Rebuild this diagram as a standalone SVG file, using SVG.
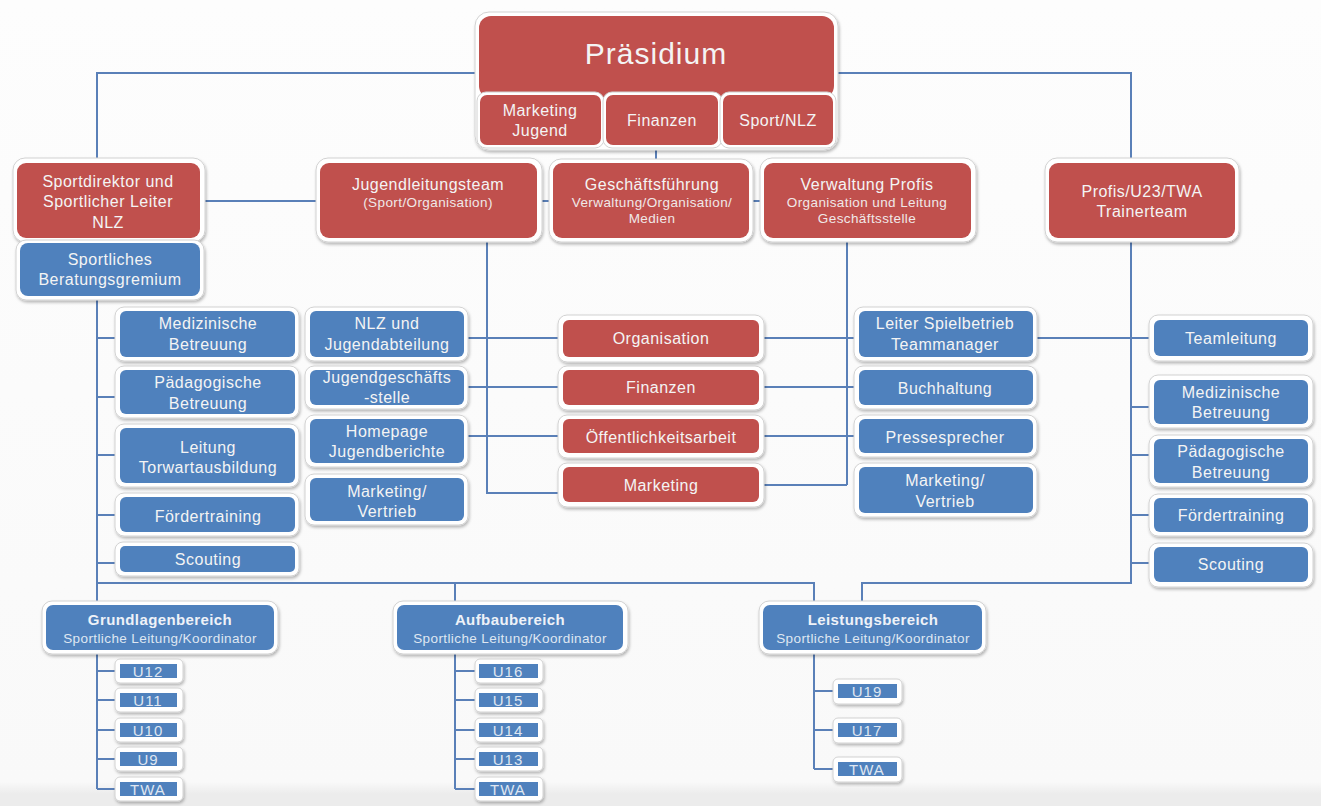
<svg xmlns="http://www.w3.org/2000/svg" width="1321" height="806" viewBox="0 0 1321 806">
<defs>
<filter id="sh" x="-10%" y="-10%" width="120%" height="130%">
<feDropShadow dx="1" dy="2" stdDeviation="1.5" flood-color="#000" flood-opacity="0.28"/>
</filter>
<linearGradient id="bg" x1="0" y1="0" x2="0" y2="1">
<stop offset="0" stop-color="#fdfdfd"/>
<stop offset="0.97" stop-color="#f9f9f9"/>
<stop offset="0.985" stop-color="#ececec"/>
<stop offset="1" stop-color="#ececec"/>
</linearGradient>
</defs>
<style>
.o{fill:#ffffff;stroke:#d2d2d2;stroke-width:1;filter:url(#sh)}
.r{fill:#c0504d}
.b{fill:#4f81bd}
.t{font-family:"Liberation Sans",Arial,sans-serif;font-size:16px;fill:#f4f4f4;text-anchor:middle;letter-spacing:0.5px}
.s{font-family:"Liberation Sans",Arial,sans-serif;font-size:13.5px;fill:#f0e8e8;text-anchor:middle;letter-spacing:0.4px}
.bt{font-family:"Liberation Sans",Arial,sans-serif;font-size:15px;font-weight:bold;fill:#eef2f8;text-anchor:middle;letter-spacing:0.4px}
.u{font-family:"Liberation Sans",Arial,sans-serif;font-size:15px;fill:#dfe6f1;text-anchor:middle;letter-spacing:1px}
.c{fill:none;stroke:#5a80b8;stroke-width:2}
</style>
<rect x="0" y="0" width="1321" height="806" fill="url(#bg)"/>

<g id="connectors">
<path class="c" d="M97,160 V73 H1131 V160"/>
<path class="c" d="M656,148 V162"/>
<path class="c" d="M204,201 H764"/>
<path class="c" d="M487,240 V493 H560"/>
<path class="c" d="M466,338 H560 M466,387 H560 M466,436 H560"/>
<path class="c" d="M847,240 V485"/>
<path class="c" d="M762,338 H856 M762,387 H856 M762,436 H856 M762,485 H847"/>
<path class="c" d="M1035,338 H1151"/>
<path class="c" d="M1131,240 V583 H862 V602"/>
<path class="c" d="M1131,407 H1151 M1131,455 H1151 M1131,515 H1151 M1131,563 H1151"/>
<path class="c" d="M97,298 V602"/>
<path class="c" d="M97,338 H117 M97,397 H117 M97,455 H117 M97,515 H117 M97,563 H117"/>
<path class="c" d="M97,583 H814 V602"/>
<path class="c" d="M455,583 V602"/>
<path class="c" d="M97,652 V789 M97,671 H117 M97,700 H117 M97,730 H117 M97,759 H117 M97,789 H117"/>
<path class="c" d="M455,652 V789 M455,671 H477 M455,700 H477 M455,730 H477 M455,759 H477 M455,789 H477"/>
<path class="c" d="M814,652 V769 M814,691 H835 M814,730 H835 M814,769 H835"/>
</g>

<g id="praesidium">
<rect class="o" x="475" y="12" width="363" height="138" rx="14"/>
<rect class="r" x="479" y="16" width="355" height="82" rx="12"/>
<text class="t" x="656" y="64" style="font-size:30px;letter-spacing:1px">Präsidium</text>
</g>
<g id="p-marketing">
<rect class="o" x="477" y="92" width="127" height="56" rx="9" style="filter:none"/>
<rect class="r" x="480" y="95" width="121" height="50" rx="7"/>
<text class="t" x="540" y="116">Marketing</text>
<text class="t" x="540" y="136">Jugend</text>
</g>
<g id="p-finanzen">
<rect class="o" x="603" y="92" width="119" height="56" rx="9" style="filter:none"/>
<rect class="r" x="606" y="95" width="112" height="50" rx="7"/>
<text class="t" x="662" y="126">Finanzen</text>
</g>
<g id="p-sport">
<rect class="o" x="720" y="92" width="116" height="56" rx="9" style="filter:none"/>
<rect class="r" x="723" y="95" width="110" height="50" rx="7"/>
<text class="t" x="778" y="126">Sport/NLZ</text>
</g>

<g id="sportdirektor">
<rect class="o" x="13" y="158" width="192" height="84" rx="12"/>
<rect class="r" x="17" y="163" width="183" height="75" rx="9"/>
<text class="t" x="108" y="187">Sportdirektor und</text>
<text class="t" x="108" y="207">Sportlicher Leiter</text>
<text class="t" x="108" y="228">NLZ</text>
</g>
<g id="beratungsgremium">
<rect class="o" x="16" y="240" width="188" height="60" rx="10"/>
<rect class="b" x="20" y="243" width="180" height="53" rx="8"/>
<text class="t" x="110" y="265">Sportliches</text>
<text class="t" x="110" y="285">Beratungsgremium</text>
</g>
<g id="jugendleitungsteam">
<rect class="o" x="316" y="158" width="226" height="84" rx="12"/>
<rect class="r" x="320" y="163" width="217" height="75" rx="9"/>
<text class="t" x="428" y="190">Jugendleitungsteam</text>
<text class="s" x="428" y="207">(Sport/Organisation)</text>
</g>
<g id="geschaeftsfuehrung">
<rect class="o" x="549" y="159" width="204" height="83" rx="12"/>
<rect class="r" x="553" y="163" width="196" height="75" rx="9"/>
<text class="t" x="652" y="190">Geschäftsführung</text>
<text class="s" x="652" y="207">Verwaltung/Organisation/</text>
<text class="s" x="652" y="223">Medien</text>
</g>
<g id="verwaltung-profis">
<rect class="o" x="760" y="158" width="216" height="84" rx="12"/>
<rect class="r" x="764" y="163" width="207" height="75" rx="9"/>
<text class="t" x="867" y="190">Verwaltung Profis</text>
<text class="s" x="867" y="207">Organisation und Leitung</text>
<text class="s" x="867" y="223">Geschäftsstelle</text>
</g>
<g id="profis">
<rect class="o" x="1045" y="158" width="194" height="84" rx="12"/>
<rect class="r" x="1049" y="163" width="186" height="75" rx="9"/>
<text class="t" x="1142" y="197">Profis/U23/TWA</text>
<text class="t" x="1142" y="217">Trainerteam</text>
</g>

<g id="l-med">
<rect class="o" x="115" y="307" width="184" height="54" rx="9"/>
<rect class="b" x="120" y="311" width="175" height="46" rx="6"/>
<text class="t" x="208" y="329">Medizinische</text>
<text class="t" x="208" y="350">Betreuung</text>
</g>
<g id="l-paed">
<rect class="o" x="115" y="366" width="184" height="52" rx="9"/>
<rect class="b" x="120" y="370" width="175" height="44" rx="6"/>
<text class="t" x="208" y="388">Pädagogische</text>
<text class="t" x="208" y="409">Betreuung</text>
</g>
<g id="l-tw">
<rect class="o" x="115" y="424" width="184" height="63" rx="9"/>
<rect class="b" x="120" y="428" width="175" height="55" rx="6"/>
<text class="t" x="208" y="453">Leitung</text>
<text class="t" x="208" y="473">Torwartausbildung</text>
</g>
<g id="l-foerder">
<rect class="o" x="115" y="493" width="184" height="43" rx="9"/>
<rect class="b" x="120" y="497" width="175" height="35" rx="6"/>
<text class="t" x="208" y="522">Fördertraining</text>
</g>
<g id="l-scouting">
<rect class="o" x="115" y="542" width="184" height="34" rx="8"/>
<rect class="b" x="120" y="546" width="175" height="26" rx="5"/>
<text class="t" x="208" y="565">Scouting</text>
</g>

<g id="m-nlz">
<rect class="o" x="305" y="307" width="163" height="54" rx="9"/>
<rect class="b" x="310" y="311" width="154" height="46" rx="6"/>
<text class="t" x="387" y="329">NLZ und</text>
<text class="t" x="387" y="350">Jugendabteilung</text>
</g>
<g id="m-jgs">
<rect class="o" x="305" y="366" width="163" height="43" rx="9"/>
<rect class="b" x="310" y="370" width="154" height="35" rx="6"/>
<text class="t" x="387" y="383">Jugendgeschäfts</text>
<text class="t" x="387" y="403">-stelle</text>
</g>
<g id="m-homepage">
<rect class="o" x="305" y="415" width="163" height="52" rx="9"/>
<rect class="b" x="310" y="419" width="154" height="44" rx="6"/>
<text class="t" x="387" y="437">Homepage</text>
<text class="t" x="387" y="457">Jugendberichte</text>
</g>
<g id="m-marketing">
<rect class="o" x="305" y="474" width="163" height="51" rx="9"/>
<rect class="b" x="310" y="478" width="154" height="43" rx="6"/>
<text class="t" x="387" y="497">Marketing/</text>
<text class="t" x="387" y="517">Vertrieb</text>
</g>

<g id="r-organisation">
<rect class="o" x="558" y="315" width="206" height="47" rx="9"/>
<rect class="r" x="563" y="320" width="196" height="37" rx="6"/>
<text class="t" x="661" y="344">Organisation</text>
</g>
<g id="r-finanzen">
<rect class="o" x="558" y="366" width="206" height="44" rx="9"/>
<rect class="r" x="563" y="370" width="196" height="35" rx="6"/>
<text class="t" x="661" y="393">Finanzen</text>
</g>
<g id="r-oeffentlichkeit">
<rect class="o" x="558" y="415" width="206" height="43" rx="9"/>
<rect class="r" x="563" y="419" width="196" height="34" rx="6"/>
<text class="t" x="661" y="443">Öffentlichkeitsarbeit</text>
</g>
<g id="r-marketing">
<rect class="o" x="558" y="463" width="206" height="44" rx="9"/>
<rect class="r" x="563" y="467" width="196" height="35" rx="6"/>
<text class="t" x="661" y="491">Marketing</text>
</g>

<g id="v-leiter">
<rect class="o" x="854" y="307" width="183" height="54" rx="9"/>
<rect class="b" x="859" y="311" width="174" height="46" rx="6"/>
<text class="t" x="945" y="329">Leiter Spielbetrieb</text>
<text class="t" x="945" y="350">Teammanager</text>
</g>
<g id="v-buchhaltung">
<rect class="o" x="854" y="366" width="183" height="43" rx="9"/>
<rect class="b" x="859" y="370" width="174" height="35" rx="6"/>
<text class="t" x="945" y="394">Buchhaltung</text>
</g>
<g id="v-presse">
<rect class="o" x="854" y="415" width="183" height="42" rx="9"/>
<rect class="b" x="859" y="419" width="174" height="34" rx="6"/>
<text class="t" x="945" y="443">Pressesprecher</text>
</g>
<g id="v-marketing">
<rect class="o" x="854" y="463" width="183" height="54" rx="9"/>
<rect class="b" x="859" y="467" width="174" height="46" rx="6"/>
<text class="t" x="945" y="486">Marketing/</text>
<text class="t" x="945" y="507">Vertrieb</text>
</g>

<g id="p-teamleitung">
<rect class="o" x="1149" y="315" width="164" height="46" rx="9"/>
<rect class="b" x="1154" y="320" width="154" height="36" rx="6"/>
<text class="t" x="1231" y="344">Teamleitung</text>
</g>
<g id="p-med">
<rect class="o" x="1149" y="375" width="164" height="53" rx="9"/>
<rect class="b" x="1154" y="380" width="154" height="44" rx="6"/>
<text class="t" x="1231" y="398">Medizinische</text>
<text class="t" x="1231" y="418">Betreuung</text>
</g>
<g id="p-paed">
<rect class="o" x="1149" y="435" width="164" height="52" rx="9"/>
<rect class="b" x="1154" y="439" width="154" height="44" rx="6"/>
<text class="t" x="1231" y="457">Pädagogische</text>
<text class="t" x="1231" y="478">Betreuung</text>
</g>
<g id="p-foerder">
<rect class="o" x="1149" y="494" width="164" height="42" rx="9"/>
<rect class="b" x="1154" y="498" width="154" height="34" rx="6"/>
<text class="t" x="1231" y="521">Fördertraining</text>
</g>
<g id="p-scouting">
<rect class="o" x="1149" y="543" width="164" height="44" rx="9"/>
<rect class="b" x="1154" y="547" width="154" height="35" rx="6"/>
<text class="t" x="1231" y="570">Scouting</text>
</g>

<g id="grundlagen">
<rect class="o" x="42" y="601" width="236" height="53" rx="10"/>
<rect class="b" x="46" y="605" width="228" height="45" rx="7"/>
<text class="bt" x="160" y="625">Grundlagenbereich</text>
<text class="s" x="160" y="643" style="fill:#dfe7f2">Sportliche Leitung/Koordinator</text>
</g>
<g id="aufbau">
<rect class="o" x="393" y="601" width="235" height="53" rx="10"/>
<rect class="b" x="397" y="605" width="226" height="45" rx="7"/>
<text class="bt" x="510" y="625">Aufbaubereich</text>
<text class="s" x="510" y="643" style="fill:#dfe7f2">Sportliche Leitung/Koordinator</text>
</g>
<g id="leistung">
<rect class="o" x="759" y="601" width="227" height="53" rx="10"/>
<rect class="b" x="763" y="605" width="219" height="45" rx="7"/>
<text class="bt" x="873" y="625">Leistungsbereich</text>
<text class="s" x="873" y="643" style="fill:#dfe7f2">Sportliche Leitung/Koordinator</text>
</g>

<g id="g-u12"><rect class="o" x="115" y="659" width="68" height="24" rx="5"/><rect class="b" x="120" y="664" width="57" height="14"/><text class="u" x="148" y="677">U12</text></g>
<g id="g-u11"><rect class="o" x="115" y="688" width="68" height="24" rx="5"/><rect class="b" x="120" y="693" width="57" height="14"/><text class="u" x="148" y="706">U11</text></g>
<g id="g-u10"><rect class="o" x="115" y="718" width="68" height="24" rx="5"/><rect class="b" x="120" y="723" width="57" height="14"/><text class="u" x="148" y="736">U10</text></g>
<g id="g-u9"><rect class="o" x="115" y="747" width="68" height="24" rx="5"/><rect class="b" x="120" y="752" width="57" height="14"/><text class="u" x="148" y="765">U9</text></g>
<g id="g-twa"><rect class="o" x="115" y="777" width="68" height="24" rx="5"/><rect class="b" x="120" y="782" width="57" height="14"/><text class="u" x="148" y="795">TWA</text></g>

<g id="a-u16"><rect class="o" x="475" y="659" width="68" height="24" rx="5"/><rect class="b" x="479" y="664" width="59" height="14"/><text class="u" x="508" y="677">U16</text></g>
<g id="a-u15"><rect class="o" x="475" y="688" width="68" height="24" rx="5"/><rect class="b" x="479" y="693" width="59" height="14"/><text class="u" x="508" y="706">U15</text></g>
<g id="a-u14"><rect class="o" x="475" y="718" width="68" height="24" rx="5"/><rect class="b" x="479" y="723" width="59" height="14"/><text class="u" x="508" y="736">U14</text></g>
<g id="a-u13"><rect class="o" x="475" y="747" width="68" height="24" rx="5"/><rect class="b" x="479" y="752" width="59" height="14"/><text class="u" x="508" y="765">U13</text></g>
<g id="a-twa"><rect class="o" x="475" y="777" width="68" height="24" rx="5"/><rect class="b" x="479" y="782" width="59" height="14"/><text class="u" x="508" y="795">TWA</text></g>

<g id="l-u19"><rect class="o" x="833" y="679" width="69" height="25" rx="5"/><rect class="b" x="838" y="684" width="59" height="14"/><text class="u" x="867" y="697">U19</text></g>
<g id="l-u17"><rect class="o" x="833" y="718" width="69" height="25" rx="5"/><rect class="b" x="838" y="723" width="59" height="14"/><text class="u" x="867" y="736">U17</text></g>
<g id="l-twa"><rect class="o" x="833" y="757" width="69" height="25" rx="5"/><rect class="b" x="838" y="762" width="59" height="14"/><text class="u" x="867" y="775">TWA</text></g>
</svg>
